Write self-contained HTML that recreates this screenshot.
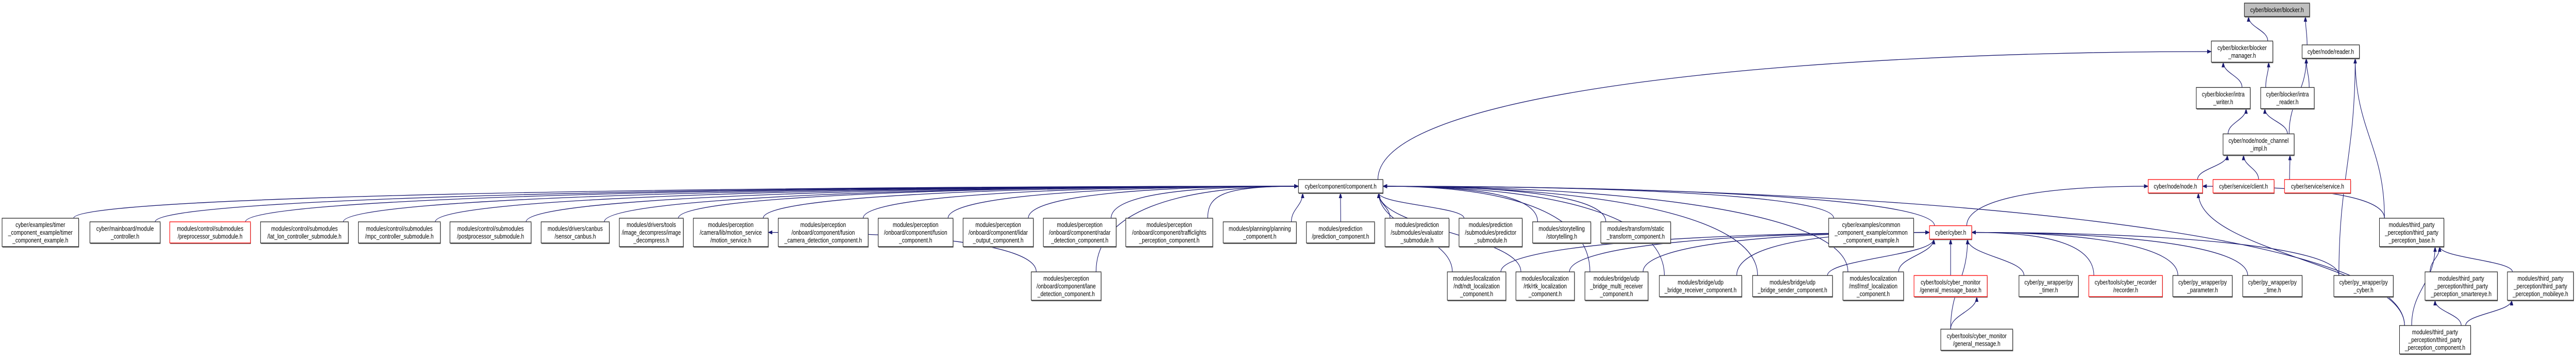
<!DOCTYPE html>
<html><head><meta charset="utf-8"><title>cyber/blocker/blocker.h dependency graph</title>
<style>
html,body{margin:0;padding:0;background:#fff;width:100vw;height:100vh;overflow:hidden;}
svg{display:block;position:absolute;left:0;top:0;width:100vw;height:100vh;}
text{font-family:"Liberation Sans",Arial,sans-serif;font-size:12.5px;fill:#000;}
</style></head>
<body>
<svg id="graph" viewBox="0 0 6160 692" preserveAspectRatio="none" xmlns="http://www.w3.org/2000/svg">
<defs>
<marker id="arr" markerWidth="11" markerHeight="8" refX="10" refY="4" orient="auto" markerUnits="userSpaceOnUse">
<path d="M0,0 L11,4 L0,8 z" fill="#191970"/>
</marker>
</defs>
<g id="edges"></g>
<g id="nodes"></g>
</svg>
<script>
const nodeLabels = [
 ["cyber/blocker/blocker.h"],
 ["cyber/blocker/blocker","_manager.h"],
 ["cyber/node/reader.h"],
 ["cyber/blocker/intra","_writer.h"],
 ["cyber/blocker/intra","_reader.h"],
 ["cyber/node/node_channel","_impl.h"],
 ["cyber/node/node.h"],
 ["cyber/service/client.h"],
 ["cyber/service/service.h"],
 ["cyber/component/component.h"],
 ["cyber/examples/timer","_component_example/timer","_component_example.h"],
 ["cyber/mainboard/module","_controller.h"],
 ["modules/control/submodules","/preprocessor_submodule.h"],
 ["modules/control/submodules","/lat_lon_controller_submodule.h"],
 ["modules/control/submodules","/mpc_controller_submodule.h"],
 ["modules/control/submodules","/postprocessor_submodule.h"],
 ["modules/drivers/canbus","/sensor_canbus.h"],
 ["modules/drivers/tools","/image_decompress/image","_decompress.h"],
 ["modules/perception","/camera/lib/motion_service","/motion_service.h"],
 ["modules/perception","/onboard/component/fusion","_camera_detection_component.h"],
 ["modules/perception","/onboard/component/fusion","_component.h"],
 ["modules/perception","/onboard/component/lidar","_output_component.h"],
 ["modules/perception","/onboard/component/radar","_detection_component.h"],
 ["modules/perception","/onboard/component/trafficlights","_perception_component.h"],
 ["modules/planning/planning","_component.h"],
 ["modules/prediction","/prediction_component.h"],
 ["modules/prediction","/submodules/evaluator","_submodule.h"],
 ["modules/prediction","/submodules/predictor","_submodule.h"],
 ["modules/storytelling","/storytelling.h"],
 ["modules/transform/static","_transform_component.h"],
 ["cyber/examples/common","_component_example/common","_component_example.h"],
 ["cyber/cyber.h"],
 ["modules/third_party","_perception/third_party","_perception_base.h"],
 ["modules/perception","/onboard/component/lane","_detection_component.h"],
 ["modules/localization","/ndt/ndt_localization","_component.h"],
 ["modules/localization","/rtk/rtk_localization","_component.h"],
 ["modules/bridge/udp","_bridge_multi_receiver","_component.h"],
 ["modules/bridge/udp","_bridge_receiver_component.h"],
 ["modules/bridge/udp","_bridge_sender_component.h"],
 ["modules/localization","/msf/msf_localization","_component.h"],
 ["cyber/tools/cyber_monitor","/general_message_base.h"],
 ["cyber/py_wrapper/py","_timer.h"],
 ["cyber/tools/cyber_recorder","/recorder.h"],
 ["cyber/py_wrapper/py","_parameter.h"],
 ["cyber/py_wrapper/py","_time.h"],
 ["cyber/py_wrapper/py","_cyber.h"],
 ["modules/third_party","_perception/third_party","_perception_smartereye.h"],
 ["modules/third_party","_perception/third_party","_perception_mobileye.h"],
 ["cyber/tools/cyber_monitor","/general_message.h"],
 ["modules/third_party","_perception/third_party","_perception_component.h"]
];
const nodeLeft  = [5367,5288,5505,5252,5406,5316,5137,5292,5463,3105,5,215,406,623,857,1076,1294,1481,1658,1861,2100,2303,2495,2692,2925,3124,3312,3489,3665,3828,4373,4614,5690,2466,3461,3625,3790,3968,4191,4407,4577,4828,4995,5196,5363,5581,5799,5996,4641,5738];
const nodeRight = [5523,5435,5642,5381,5534,5486,5267,5438,5621,3307,188,383,599,833,1053,1270,1457,1634,1837,2076,2279,2471,2669,2900,3100,3287,3465,3640,3804,3995,4576,4715,5844,2633,3601,3765,3941,4165,4382,4552,4752,4970,5171,5338,5505,5723,5972,6154,4813,5908];
const nodeRank  = [0,1,1,2,2,3,4,4,4,4,5,5,5,5,5,5,5,5,5,5,5,5,5,5,5,5,5,5,5,5,5,5,5,6,6,6,6,6,6,6,6,6,6,6,6,6,6,6,7,7];
const rankCenter = [19,100,190,280,361,450.5,554.5,658.5];
const redNodes = [6,7,8,12,31,40,42];
const rootNodes = [0];
const edgeFrom = [1,2,9,3,4,4,5,45,32,5,5,6,7,8,31,32,49,
 10,11,12,13,14,15,16,17,18,19,20,21,22,23,24,25,26,27,28,29,30,31,33,34,35,36,37,38,39,49,
 33,34,35,36,37,38,39,40,41,42,43,44,45,48,48,46,47,49,49,49];
const edgeTo   = [0,0,1,1,1,2,2,2,2,3,4,5,5,5,6,6,6,
 9,9,9,9,9,9,9,9,9,9,9,9,9,9,9,9,9,9,9,9,9,9,9,9,9,9,9,9,9,9,
 18,31,31,31,31,31,31,31,31,31,31,31,31,31,40,32,32,32,46,47];

const SVGNS = "http://www.w3.org/2000/svg";
const edgeLayer = document.getElementById('edges');
const nodeLayer = document.getElementById('nodes');
function boxHeight(n){ const l = nodeLabels[n].length; return l===1?26:(l===2?41:55); }
function nodeTop(n){ return rankCenter[nodeRank[n]] - boxHeight(n)/2; }
function nodeBottom(n){ return rankCenter[nodeRank[n]] + boxHeight(n)/2; }
function nodeCenterX(n){ return (nodeLeft[n]+nodeRight[n])/2; }
function clampV(v,a,b){ return Math.max(a,Math.min(b,v)); }

for (let i=0;i<edgeFrom.length;i++){
  const s = edgeFrom[i], t = edgeTo[i];
  const sx = clampV(nodeCenterX(t), nodeLeft[s]+12, nodeRight[s]-12), sy = nodeTop(s);
  let ex, ey, d;
  const dx = nodeCenterX(t) - nodeCenterX(s), dy = sy - nodeBottom(t);
  if (Math.abs(dx) > 4*Math.max(dy,1) && Math.abs(dx) > 400) {
    ex = dx > 0 ? nodeLeft[t] : nodeRight[t];
    ey = rankCenter[nodeRank[t]];
    const sg = dx > 0 ? -1 : 1;
    d = `M${sx},${sy} C${sx},${sy-(sy-ey)*0.7} ${ex + sg*Math.abs(dx)*0.45},${ey} ${ex},${ey}`;
  } else {
    ex = clampV(nodeCenterX(s), nodeLeft[t]+10, nodeRight[t]-10);
    ey = nodeBottom(t);
    d = `M${sx},${sy} C${sx},${sy-dy*0.45} ${ex},${ey+dy*0.45} ${ex},${ey}`;
  }
  const p = document.createElementNS(SVGNS,'path');
  p.setAttribute('d', d);
  p.setAttribute('fill','none');
  p.setAttribute('stroke','#191970');
  p.setAttribute('stroke-width','1.3');
  p.setAttribute('marker-end','url(#arr)');
  
  
  edgeLayer.appendChild(p);
}

for (let n=0;n<nodeLabels.length;n++){
  const g = document.createElementNS(SVGNS,'g');
  
  
  const x = nodeLeft[n], y = nodeTop(n), w = nodeRight[n]-nodeLeft[n], h = boxHeight(n);
  const sh = document.createElementNS(SVGNS,'rect');
  sh.setAttribute('x', x+1); sh.setAttribute('y', y+2);
  sh.setAttribute('width', w); sh.setAttribute('height', h);
  sh.setAttribute('fill', '#777');
  g.appendChild(sh);
  const r = document.createElementNS(SVGNS,'rect');
  r.setAttribute('x', x); r.setAttribute('y', y);
  r.setAttribute('width', w); r.setAttribute('height', h);
  r.setAttribute('fill', rootNodes.includes(n) ? '#bfbfbf' : '#fff');
  r.setAttribute('stroke', redNodes.includes(n) ? '#ff0000' : '#222');
  r.setAttribute('stroke-width', '1.3');
  g.appendChild(r);
  nodeLayer.appendChild(g);
  const lines = nodeLabels[n];
  const cy = rankCenter[nodeRank[n]];
  lines.forEach((ln,k)=>{
    const t = document.createElementNS(SVGNS,'text');
    t.setAttribute('x', nodeCenterX(n));
    t.setAttribute('y', cy + (k - (lines.length-1)/2)*15 + 4.5);
    t.setAttribute('text-anchor','middle');
    
    
    t.textContent = ln;
    g.appendChild(t);
    const maxW = w - 12;
    let len = 0;
    try { len = t.getComputedTextLength(); } catch(e) { len = 0; }
    if (len > maxW) {
      t.setAttribute('textLength', maxW);
      t.setAttribute('lengthAdjust', 'spacingAndGlyphs');
    }
  });
}
</script>
</body></html>
